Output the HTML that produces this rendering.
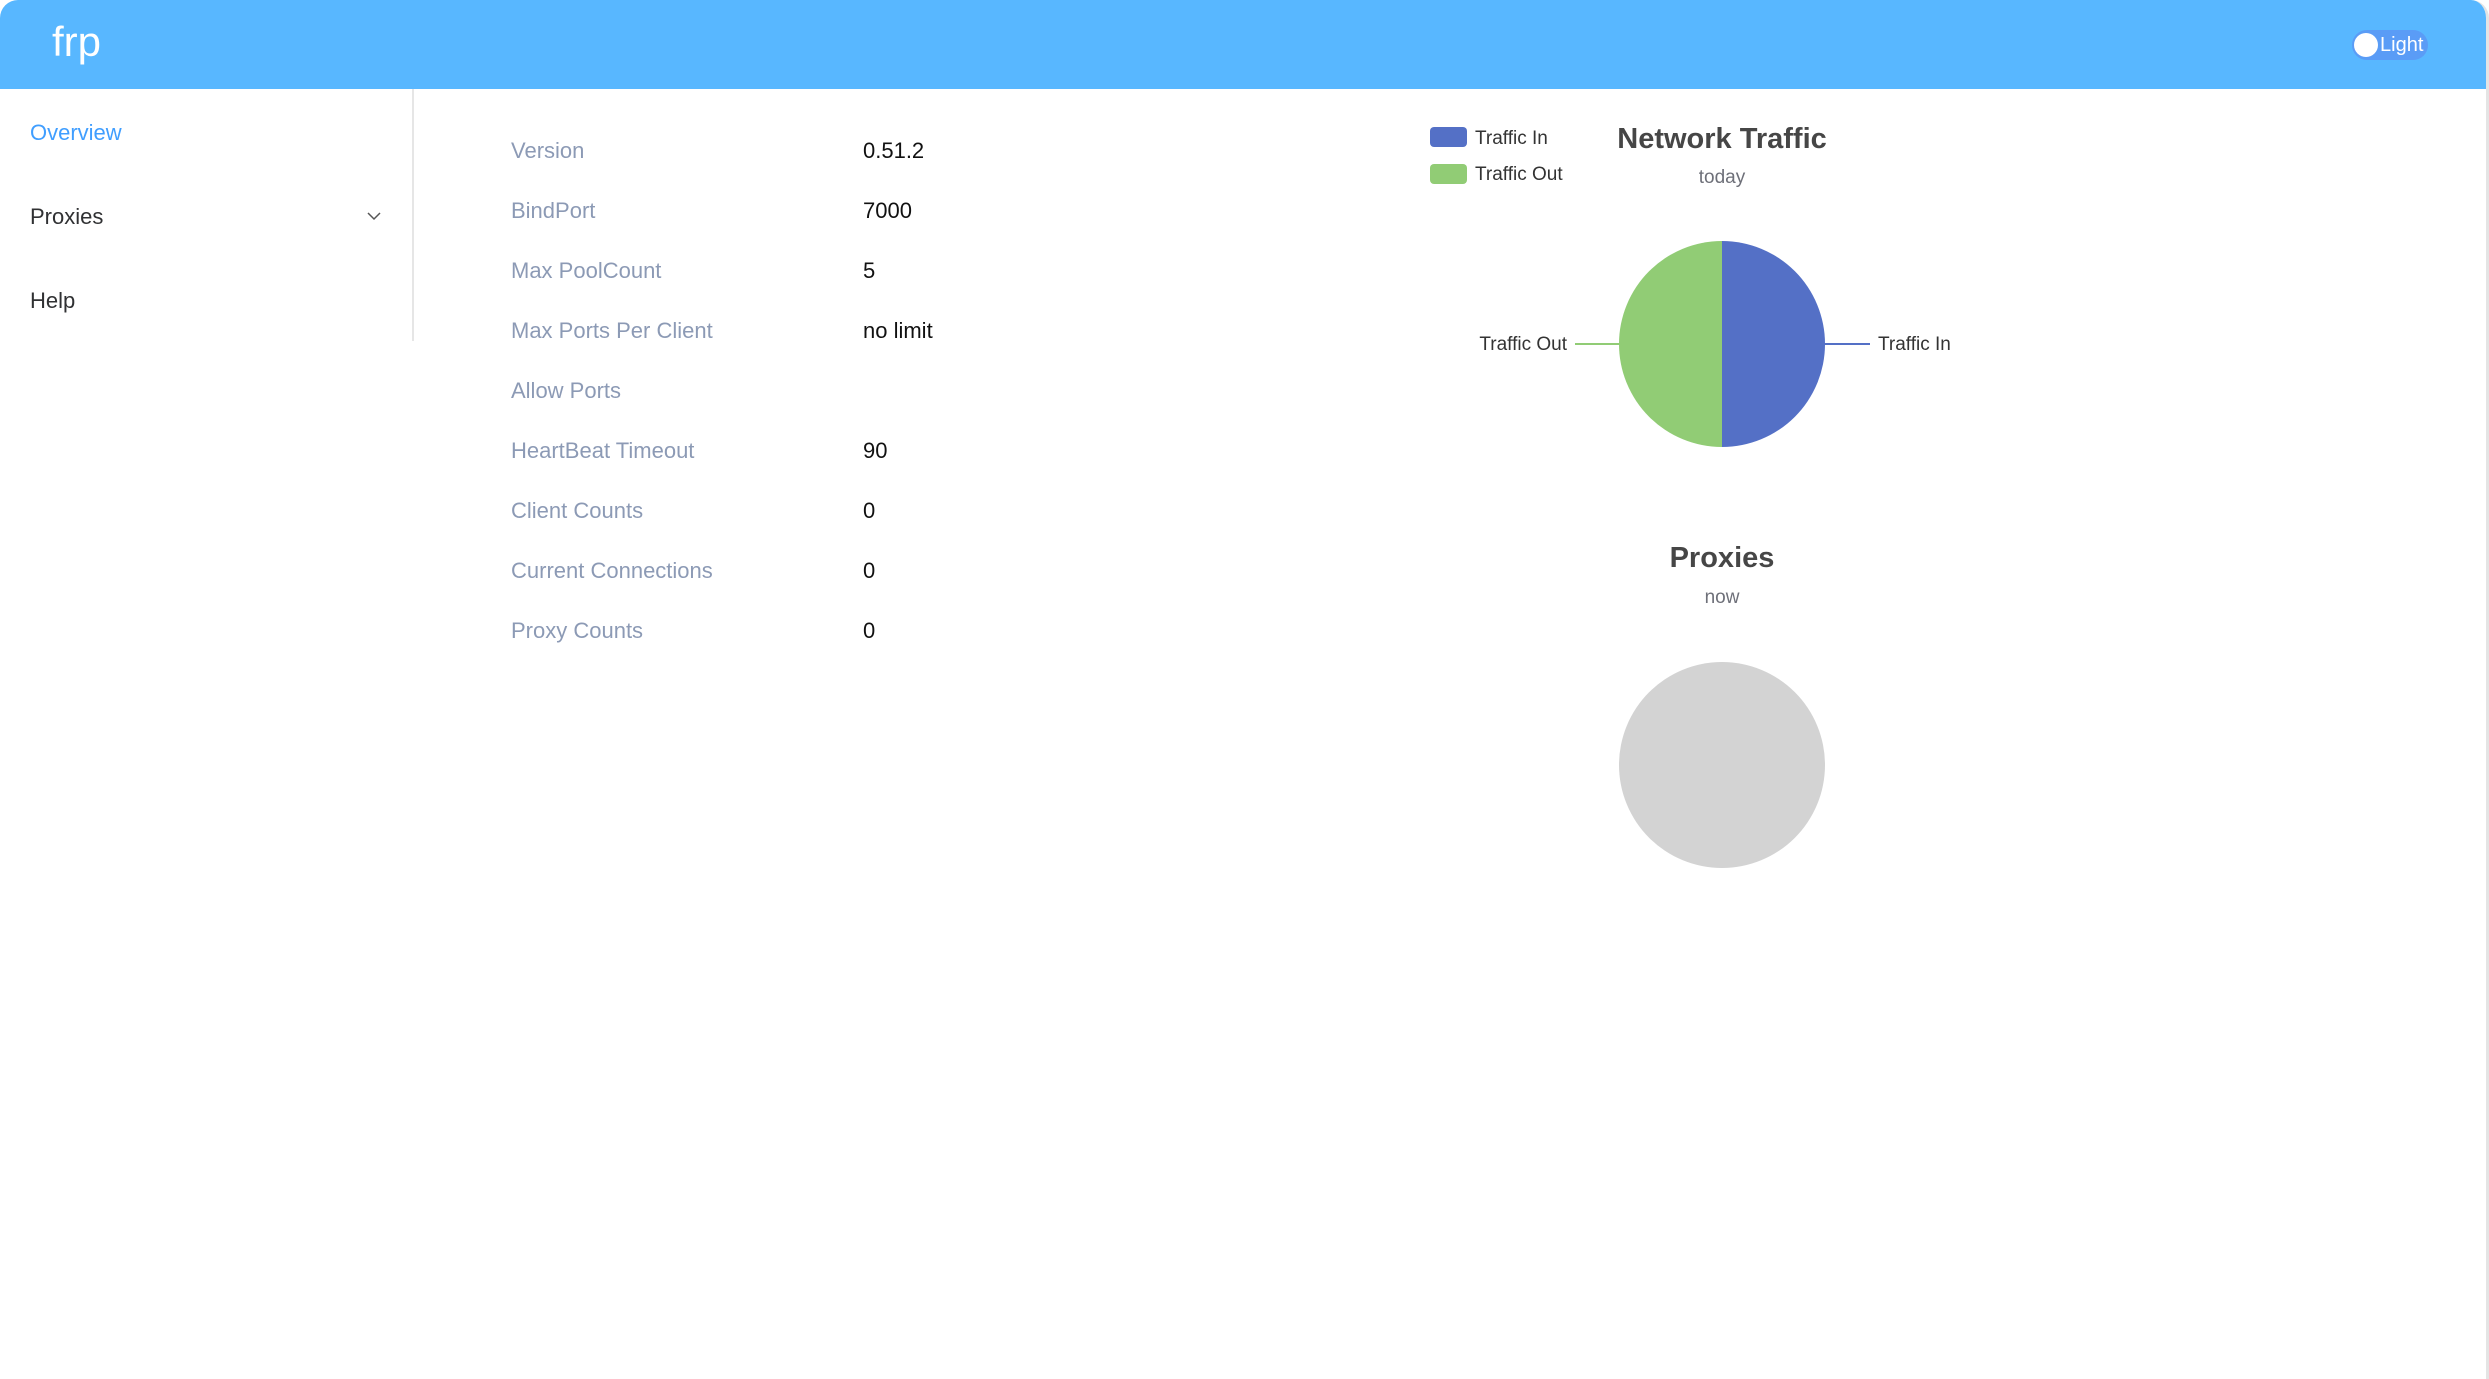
<!DOCTYPE html>
<html><head><meta charset="utf-8"><style>
*{margin:0;padding:0;box-sizing:border-box}
body{width:2489px;height:1379px;background:#fff;font-family:"Liberation Sans",sans-serif;position:relative;overflow:hidden}
.frame{position:absolute;left:0;top:0;width:2489px;height:1379px;border-right:3px solid #e4e4e4;border-radius:18px 18px 0 0;overflow:hidden}
.hdr{position:absolute;left:0;top:0;width:2489px;height:89px;background:#58b7ff}
.logo{position:absolute;left:52px;top:18px;color:#fff;font-size:42px}
.tog{position:absolute;left:2352px;top:30px;width:76px;height:30px;border-radius:15px;background:#5a9cf6}
.tog .k{position:absolute;left:2px;top:3px;width:24px;height:24px;border-radius:50%;background:#fff}
.tog span{position:absolute;left:28px;top:4px;color:#fff;font-size:20px}
.side{position:absolute;left:0;top:89px;width:414px;height:252px;border-right:2px solid #e6e6e6}
.m{position:absolute;left:30px;font-size:22px;color:#303133}
.t{position:absolute;font-size:22px}
.l{left:511px;color:#8c9ab5}
.v{left:863px;color:#111}
</style></head><body><div class="frame">
<div class="hdr"><div class="logo">frp</div><div class="tog"><div class="k"></div><span>Light</span></div></div>
<div class="side"></div>
<div class="m" style="top:120px;color:#409eff">Overview</div>
<div class="m" style="top:204px">Proxies</div>
<svg style="position:absolute;left:367px;top:211px" width="14" height="10"><path d="M1 2 L7 8 L13 2" stroke="#555" stroke-width="1.5" fill="none"/></svg>
<div class="m" style="top:288px">Help</div>
<div class="t l" style="top:138px">Version</div><div class="t v" style="top:138px">0.51.2</div>
<div class="t l" style="top:198px">BindPort</div><div class="t v" style="top:198px">7000</div>
<div class="t l" style="top:258px">Max PoolCount</div><div class="t v" style="top:258px">5</div>
<div class="t l" style="top:318px">Max Ports Per Client</div><div class="t v" style="top:318px">no limit</div>
<div class="t l" style="top:378px">Allow Ports</div>
<div class="t l" style="top:438px">HeartBeat Timeout</div><div class="t v" style="top:438px">90</div>
<div class="t l" style="top:498px">Client Counts</div><div class="t v" style="top:498px">0</div>
<div class="t l" style="top:558px">Current Connections</div><div class="t v" style="top:558px">0</div>
<div class="t l" style="top:618px">Proxy Counts</div><div class="t v" style="top:618px">0</div>
<svg style="position:absolute;left:0;top:0" width="2489" height="1379" font-family="Liberation Sans, sans-serif">
<rect x="1430" y="127" width="37" height="20" rx="4" fill="#5470c6"/>
<rect x="1430" y="164" width="37" height="20" rx="4" fill="#91cc75"/>
<text x="1475" y="144" font-size="19" fill="#333">Traffic In</text>
<text x="1475" y="180" font-size="19" fill="#333">Traffic Out</text>
<text x="1722" y="148" font-size="29" font-weight="bold" fill="#464646" text-anchor="middle">Network Traffic</text>
<text x="1722" y="183" font-size="19" fill="#6e7079" text-anchor="middle">today</text>
<path d="M1722 241 A103 103 0 0 1 1722 447 Z" fill="#5470c6"/>
<path d="M1722 447 A103 103 0 0 1 1722 241 Z" fill="#91cc75"/>
<line x1="1575" y1="344" x2="1619" y2="344" stroke="#91cc75" stroke-width="2"/>
<line x1="1825" y1="344" x2="1870" y2="344" stroke="#5470c6" stroke-width="2"/>
<text x="1567" y="350" font-size="19" fill="#333" text-anchor="end">Traffic Out</text>
<text x="1878" y="350" font-size="19" fill="#333">Traffic In</text>
<text x="1722" y="567" font-size="29" font-weight="bold" fill="#464646" text-anchor="middle">Proxies</text>
<text x="1722" y="603" font-size="19" fill="#6e7079" text-anchor="middle">now</text>
<circle cx="1722" cy="765" r="103" fill="#d3d3d3"/>
</svg>
</div></body></html>
